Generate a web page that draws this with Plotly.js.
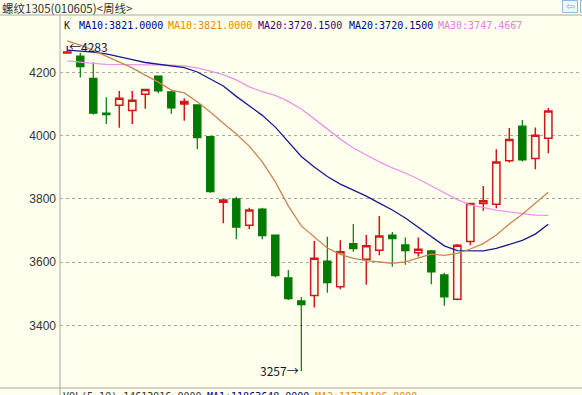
<!DOCTYPE html>
<html>
<head>
<meta charset="utf-8">
<script src="https://cdn.plot.ly/plotly-3.0.1.min.js"></script>
<style>
  html, body { margin: 0; padding: 0; background: #FFFFEE; }
  #chart { width: 582px; height: 395px; }
</style>
</head>
<body>
<div id="chart"></div>
<script>
// Weekly bars (index of week in view)
const weeks = [0,1,2,3,4,5,6,7,8,9,10,11,12,13,14,15,16,17,18,19,20,21,22,23,24,25,26,27,28,29,30,31,32,33,34,35,36,37];
const openP  = [4261,4251,4181,4071,4096,4079,4131,4188,4138,4100,4097,3997,3790,3800,3717,3768,3686,3551,3478,3495,3604,3523,3659,3610,3638,3686,3655,3630,3636,3560,3483,3666,3786,3783,3921,4030,3928,3992];
const highP  = [4283,4262,4232,4121,4141,4141,4146,4190,4141,4118,4099,3999,3800,3807,3772,3772,3687,3576,3490,3667,3681,3670,3721,3686,3746,3696,3678,3678,3639,3567,3658,3787,3841,3957,4024,4049,4026,4087];
const lowP   = [4260,4184,4067,4037,4025,4037,4085,4134,4069,4047,3957,3820,3723,3673,3704,3673,3553,3481,3257,3457,3504,3515,3633,3529,3622,3586,3592,3618,3531,3463,3480,3654,3763,3771,3915,3918,3894,3944];
const closeP = [4264,4218,4071,4066,4118,4112,4146,4141,4088,4108,3994,3823,3797,3711,3765,3684,3558,3485,3466,3613,3536,3633,3643,3652,3683,3675,3637,3641,3570,3491,3654,3786,3794,3917,3988,3923,4001,4078];
// Moving averages
const ma10 = [4299,4286,4269,4250,4231,4214,4191,4169,4144,4135,4107,4075,4039,4005,3967,3917,3854,3778,3715,3680,3645,3625,3612,3605,3601,3597,3601,3614,3626,3622,3628,3642,3659,3686,3721,3752,3786,3821];
const ma20 = [4270,4267,4264,4258,4250,4240,4231,4225,4220,4215,4201,4179,4157,4124,4094,4064,4027,3980,3934,3901,3871,3847,3828,3809,3787,3765,3740,3711,3683,3652,3637,3636,3636,3644,3656,3669,3689,3720];
const ma30 = [4236,4231,4228,4225,4225,4225,4225,4225,4223,4220,4214,4204,4193,4176,4154,4139,4127,4108,4084,4053,4021,3989,3961,3939,3917,3898,3882,3863,3841,3819,3798,3781,3772,3765,3759,3754,3749,3748];
// Texts
const titleText = "螺纹1305(010605)<周线>";
const legendTexts = ["K", "MA10:3821.0000", "MA10:3821.0000", "MA20:3720.1500", "MA20:3720.1500", "MA30:3747.4667"];
const volTexts = ["VOL(5,10) 14613916.0000", "MA1:11863648.0000", "MA2:11734106.0000"];
const yTicks = [3400, 3600, 3800, 4000, 4200];

const BG = "#FFFFEE";
const L = 60, R = 582, T = 15, B = 388;
const px = v => (v - L) / (R - L);
const py = v => (B - v) / (B - T);

const traces = [
  {
    type: "candlestick", x: weeks, open: openP, high: highP, low: lowP, close: closeP,
    increasing: { line: { color: "#D01818", width: 1.5 }, fillcolor: BG },
    decreasing: { line: { color: "#007A00", width: 1.2 }, fillcolor: "#007A00" },
    whiskerwidth: 0, hoverinfo: "skip"
  },
  { type: "scatter", mode: "lines", x: weeks, y: ma30, line: { color: "#E996E6", width: 1.3 }, hoverinfo: "skip" },
  { type: "scatter", mode: "lines", x: weeks, y: ma20, line: { color: "#1A1A8E", width: 1.3 }, hoverinfo: "skip" },
  { type: "scatter", mode: "lines", x: weeks, y: ma10, line: { color: "#C88552", width: 1.3 }, hoverinfo: "skip" }
];

const maxH = Math.max(...highP), minL = Math.min(...lowP);
const iMax = highP.indexOf(maxH), iMin = lowP.indexOf(minL);

const mono = { family: "DejaVu Sans Mono, monospace", size: 10 };
const legendX = [62, 76.5, 165.5, 256, 346.5, 435.5];
const legendColors = ["#202020", "#000080", "#E88A00", "#3C0078", "#000080", "#E080E0"];
const annotations = [];
legendTexts.forEach((t, i) => annotations.push({
  xref: "paper", yref: "paper", x: px(legendX[i]), y: py(25), xanchor: "left", yanchor: "middle",
  text: t, showarrow: false, font: Object.assign({}, mono, { color: legendColors[i] })
}));
const volX = [61, 205, 313];
const volColors = ["#333333", "#000080", "#E88A00"];
volTexts.forEach((t, i) => annotations.push({
  xref: "paper", yref: "paper", x: px(volX[i]), y: py(389), xanchor: "left", yanchor: "top",
  text: t, showarrow: false, font: Object.assign({}, mono, { color: volColors[i] })
}));
annotations.push({
  xref: "paper", yref: "paper", x: px(0), y: py(8), xanchor: "left", yanchor: "middle",
  text: titleText, showarrow: false,
  font: { family: "Noto Sans CJK SC, sans-serif", size: 11.5, color: "#333333" }
});
annotations.push({
  xref: "x", yref: "y", x: weeks[iMax], y: maxH, xanchor: "left", yanchor: "middle",
  text: "←" + maxH, showarrow: false,
  font: { family: "Noto Sans CJK SC, sans-serif", size: 12, color: "#141438" }
});
annotations.push({
  xref: "x", yref: "y", x: weeks[iMin], y: minL, xanchor: "right", yanchor: "middle",
  text: minL + "→", showarrow: false,
  font: { family: "Noto Sans CJK SC, sans-serif", size: 12, color: "#141438" }
});
annotations.push({
  xref: "paper", yref: "paper", x: px(570), y: py(6.5), xanchor: "center", yanchor: "middle",
  text: "⇦", showarrow: false,
  font: { family: "DejaVu Sans, sans-serif", size: 11, color: "#7FAED6" }
});

const shapes = [
  { type: "line", xref: "paper", yref: "paper", x0: px(0), x1: 1, y0: py(T), y1: py(T), line: { color: "#A8A8A8", width: 1 } },
  { type: "line", xref: "paper", yref: "paper", x0: px(0), x1: 1, y0: py(B), y1: py(B), line: { color: "#A8A8A8", width: 1 } },
  { type: "line", xref: "paper", yref: "paper", x0: 0, x1: 0, y0: py(T), y1: py(396), line: { color: "#A8A8A8", width: 1 } },
  { type: "rect", xref: "paper", yref: "paper", x0: px(562.5), x1: px(577.5), y0: py(0.5), y1: py(12.5), line: { color: "#8FB8DA", width: 1 }, fillcolor: "#F2F7FC" },
  { type: "rect", xref: "paper", yref: "paper", x0: px(580.5), x1: px(592), y0: py(0.5), y1: py(12.5), line: { color: "#8FB8DA", width: 1 }, fillcolor: "#F2F7FC" }
];

const layout = {
  width: 582, height: 395,
  margin: { l: L, r: 582 - R, t: T, b: 395 - B, pad: 0 },
  paper_bgcolor: BG, plot_bgcolor: BG,
  showlegend: false,
  boxgap: 0.2,
  xaxis: {
    range: [-0.56, 39.59], showgrid: false, zeroline: false, showline: false,
    showticklabels: false, ticks: "", rangeslider: { visible: false }, fixedrange: true
  },
  yaxis: {
    range: [3203, 4381], tickvals: yTicks, ticktext: yTicks.map(String),
    showgrid: true, gridcolor: "#A8A8A8", griddash: "dot", gridwidth: 1,
    zeroline: false, showline: false, ticks: "", ticklabelstandoff: 3,
    tickfont: { family: "Liberation Sans, Arial, sans-serif", size: 12, color: "#333333" },
    fixedrange: true
  },
  annotations: annotations,
  shapes: shapes
};

Plotly.newPlot("chart", traces, layout, { staticPlot: true, displayModeBar: false });
</script>
</body>
</html>
